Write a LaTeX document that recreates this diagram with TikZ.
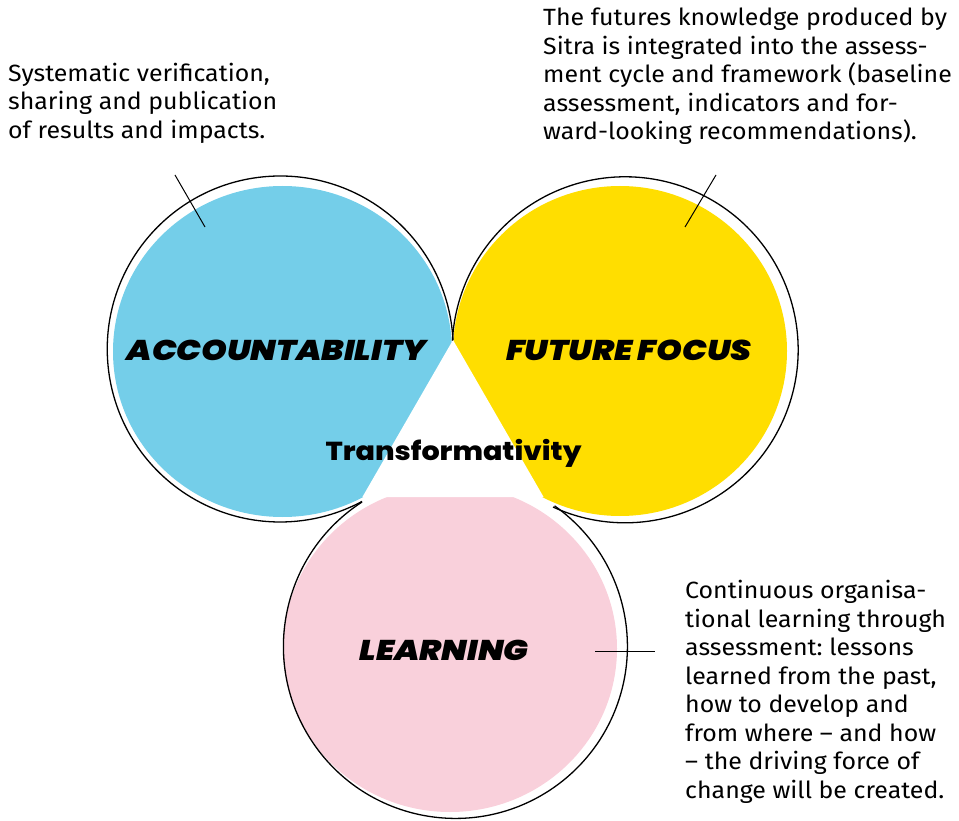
\documentclass[tikz,border=0pt]{standalone}
\usepackage{fontspec}
\setmainfont{Fira Sans}[FakeStretch=1.06]
\newfontfamily\headfont{Poppins Black Italic}[FakeStretch=1.15]
\newfontfamily\transfont{Poppins ExtraBold}[FakeStretch=1.1]
\definecolor{cblue}{HTML}{74CEE9}
\definecolor{cyellow}{HTML}{FFDE00}
\definecolor{cpink}{HTML}{F9D0DB}
\frenchspacing
\begin{document}
\begin{tikzpicture}[x=1pt,y=1pt,
  outline/.style={draw=black, line width=1.3pt},
  leader/.style={draw=black, line width=1pt},
  body/.style={font=\fontsize{23.5}{28.5}\selectfont, align=left, inner sep=0pt, anchor=base west},
  title/.style={font=\headfont\fontsize{28.5}{30}\selectfont, inner sep=0pt, anchor=base},
]
\useasboundingbox (0,0) rectangle (959,-821);
% fills
\fill[cblue] (282.5,-351.5) ellipse[x radius=169.5, y radius=165.5];
\fill[cyellow] (620,-351) ellipse[x radius=167, y radius=165];
\fill[cpink] (450,-648.5) ellipse[x radius=167, y radius=163.5];
\fill[white] (453,-340) -- (362.4,-497) -- (543.6,-497) -- cycle;
% cusps
\coordinate (cT) at (453,-340);
\coordinate (cL) at (362,-502);
\coordinate (cR) at (553,-507);
\draw[outline] (cT) arc[start angle=2.98, end angle=298.2, radius=173];
\draw[outline] (cR) arc[start angle=-114.65, end angle=177, radius=173];
\draw[outline] (cL) arc[start angle=122.9, end angle=414.8, radius=172];
% titles
\node[title] (acc) at (276.5,-360) {ACCOUNTABILITY};
\node[title] (fut) at (629,-360) {FUTURE FOCUS};
\node[title] (lea) at (444,-660) {LEARNING};
\node[font=\transfont\fontsize{26}{28}\selectfont, inner sep=0pt, anchor=base] (tra) at (453.5,-460) {Transformativity};
% texts (anchored at the baseline of the last line)
\node[body] (tacc) at (8,-138.5) {Systematic verification,\\sharing and publication\\of results and impacts.};
\node[body] (tfut) at (543,-140) {The futures knowledge produced by\\Sitra is integrated into the assess-\\ment cycle and framework (baseline\\assessment, indicators and for-\\ward-looking recommendations).};
\node[body] (tlea) at (685,-798) {Continuous organisa-\\tional learning through\\assessment: lessons\\learned from the past,\\how to develop and\\from where – and how\\– the driving force of\\change will be created.};
% leaders
\coordinate (la1) at (175,-175); \coordinate (la2) at (205,-227);
\coordinate (lf1) at (716,-175); \coordinate (lf2) at (685,-227);
\coordinate (ll1) at (595,-651); \coordinate (ll2) at (655,-651);
\draw[leader] (la1) -- (la2);
\draw[leader] (lf1) -- (lf2);
\draw[leader] (ll1) -- (ll2);
\end{tikzpicture}
\end{document}
